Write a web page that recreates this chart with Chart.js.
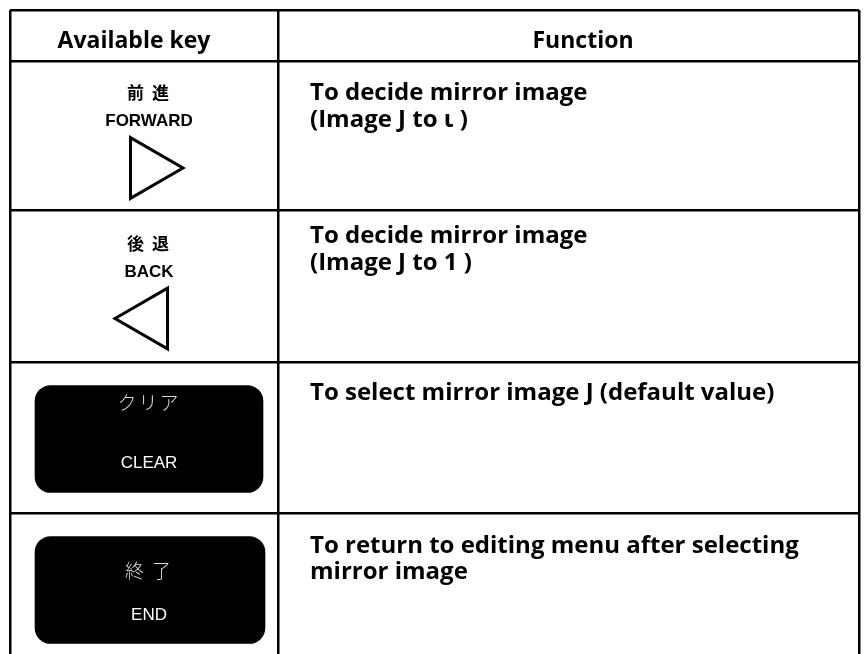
<!DOCTYPE html>
<html>
<head>
<meta charset="utf-8">
<script src="https://cdn.jsdelivr.net/npm/chart.js@4.4.1/dist/chart.umd.min.js"></script>
<style>
  html, body { margin: 0; padding: 0; background: #ffffff; }
  #wrap { width: 864px; height: 654px; position: relative; }
</style>
</head>
<body>
<div id="wrap"><canvas id="c" width="864" height="654"></canvas></div>
<script>
// ---- table content (text data) ----
const headers = ["Available key", "Function"];
const keyNamesJa = ["前 進", "後 退", "クリア", "終 了"];
const keyNamesEn = ["FORWARD", "BACK", "CLEAR", "END"];
const keyKinds = ["arrowRight", "arrowLeft", "button", "button"];
const functionLines = [
  ["To decide mirror image", "(Image J to ι )"],
  ["To decide mirror image", "(Image J to 1 )"],
  ["To select mirror image J (default value)"],
  ["To return to editing menu after selecting", "mirror image"]
];

// ---- layout (table units, origin = table top-left corner) ----
const TABLE_W = 849, TABLE_H = 644;
const colBounds = [0, 268, 849];
const rowBounds = [0, 51, 200, 352, 503];
const keyCenterX = 139;
const funcTextX = 300;
const headerCenters = [124, 573];
const headerBaseline = 38;
const jaBaselines = [89, 240, 400, 568];
const enBaselines = [116, 267, 458, 610];
const funcBaselines = [[90, 117], [233, 260], [390], [543, 569]];
const arrowCenters = [{x: 138, y: 158}, {x: 140, y: 308.5}];
const buttonSpans = [{y: 429, x: [25, 253]}, {y: 580, x: [25, 255]}];

const arrowData = arrowCenters.map(p => ({x: p.x, y: p.y}));
const buttonData = buttonSpans.map(b => ({y: b.y, x: b.x}));

const tableTextPlugin = {
  id: 'tableText',
  afterDatasetsDraw(chart) {
    const ctx = chart.ctx;
    const sx = chart.scales.x, sy = chart.scales.y;
    const X = v => sx.getPixelForValue(v);
    const Y = v => sy.getPixelForValue(v);
    ctx.save();
    ctx.textBaseline = 'alphabetic';
    ctx.fillStyle = '#000';
    ctx.font = '700 23px "Open Sans"';
    ctx.textAlign = 'center';
    headers.forEach((h, i) => ctx.fillText(h, X(headerCenters[i]), Y(headerBaseline)));
    keyNamesJa.forEach((t, i) => {
      const isBtn = keyKinds[i] === 'button';
      ctx.textAlign = 'center';
      ctx.letterSpacing = '2px';
      if (isBtn) {
        ctx.fillStyle = '#d9d9d9';
        ctx.font = '300 19px "Noto Sans CJK JP"';
      } else {
        ctx.fillStyle = '#000';
        ctx.font = 'bold 17px "Noto Sans CJK JP"';
      }
      ctx.fillText(t, X(keyCenterX), Y(jaBaselines[i]));
      ctx.letterSpacing = '0px';
      if (isBtn) {
        ctx.fillStyle = '#fff';
        ctx.font = '17px "Liberation Sans"';
      } else {
        ctx.fillStyle = '#000';
        ctx.font = 'bold 17px "Liberation Sans"';
      }
      ctx.fillText(keyNamesEn[i], X(keyCenterX), Y(enBaselines[i]));
    });
    ctx.fillStyle = '#000';
    ctx.font = '700 24px "Open Sans"';
    ctx.textAlign = 'left';
    functionLines.forEach((lines, i) => {
      lines.forEach((ln, j) => ctx.fillText(ln, X(funcTextX), Y(funcBaselines[i][j])));
    });
    ctx.restore();
  }
};

new Chart(document.getElementById('c'), {
  type: 'bar',
  data: {
    datasets: [
      {
        type: 'bar',
        label: 'keys',
        data: buttonData,
        backgroundColor: '#000',
        borderSkipped: false,
        borderRadius: 16,
        barThickness: 107,
        grouped: false
      },
      {
        type: 'scatter',
        label: 'arrows',
        data: arrowData,
        pointStyle: 'triangle',
        rotation: [90, 270],
        pointRadius: 35,
        backgroundColor: '#fff',
        borderColor: '#000',
        borderWidth: 3,
        clip: false
      }
    ]
  },
  options: {
    indexAxis: 'y',
    responsive: false,
    animation: false,
    devicePixelRatio: 1,
    events: [],
    layout: { autoPadding: false, padding: { left: 10, top: 10, right: 5, bottom: 0 } },
    plugins: { legend: { display: false }, tooltip: { enabled: false } },
    scales: {
      x: {
        type: 'linear', position: 'bottom', min: 0, max: TABLE_W, offset: false,
        afterBuildTicks: s => { s.ticks = colBounds.map(v => ({ value: v })); },
        ticks: { display: false },
        grid: { color: '#000', lineWidth: 2.5, drawTicks: false, offset: false },
        border: { display: false }
      },
      y: {
        type: 'linear', position: 'left', min: 0, max: TABLE_H, reverse: true, offset: false,
        afterBuildTicks: s => { s.ticks = rowBounds.map(v => ({ value: v })); },
        ticks: { display: false },
        grid: { color: '#000', lineWidth: 2.5, drawTicks: false, offset: false },
        border: { display: false }
      }
    }
  },
  plugins: [tableTextPlugin]
});
</script>
</body>
</html>
